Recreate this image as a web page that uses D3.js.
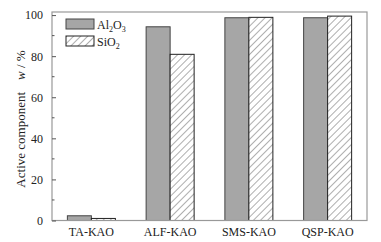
<!DOCTYPE html>
<html>
<head>
<meta charset="utf-8">
<script src="https://cdn.jsdelivr.net/npm/d3@7"></script>
<style>
  body { margin: 0; background: #fff; }
  text { font-family: "Liberation Serif", "Times New Roman", serif; }
</style>
</head>
<body>
<svg id="chart" width="381" height="242"></svg>
<script>
// chart data
const samples = ["TA-KAO", "ALF-KAO", "SMS-KAO", "QSP-KAO"];
const al2o3 = [2.3, 94.3, 98.7, 98.7];
const sio2 = [1.0, 80.9, 98.9, 99.5];
const yTicks = [0, 20, 40, 60, 80, 100];
const yMinor = [10, 30, 50, 70, 90];

const svg = d3.select("#chart");
const margin = { left: 52, right: 14, top: 12, bottom: 21.5 };
const width = 381 - margin.left - margin.right;
const height = 242 - margin.top - margin.bottom;

// hatch pattern for SiO2 bars
const defs = svg.append("defs");
defs.append("pattern")
  .attr("id", "hatch")
  .attr("patternUnits", "userSpaceOnUse")
  .attr("width", 5)
  .attr("height", 5)
  .attr("patternTransform", "rotate(45)")
  .call(p => {
    p.append("rect").attr("width", 5).attr("height", 5).attr("fill", "#fff");
    p.append("line").attr("x1", 0).attr("y1", 0).attr("x2", 0).attr("y2", 5)
      .attr("stroke", "#333").attr("stroke-width", 0.8);
  });

const g = svg.append("g").attr("transform", `translate(${margin.left},${margin.top})`);

const x = d3.scaleBand().domain(samples).range([0, width]).padding(0);
const y = d3.scaleLinear().domain([0, 101.5]).range([height, 0]);
const barW = 24;

// bars
const groups = g.selectAll(".grp")
  .data(samples)
  .join("g")
  .attr("transform", d => `translate(${x(d) + x.bandwidth() / 2},0)`);

groups.append("rect")
  .attr("x", -barW)
  .attr("y", (d, i) => y(al2o3[i]))
  .attr("width", barW)
  .attr("height", (d, i) => height - y(al2o3[i]))
  .attr("fill", "#a6a6a6")
  .attr("stroke", "#444")
  .attr("stroke-width", 1);

groups.append("rect")
  .attr("x", 0)
  .attr("y", (d, i) => y(sio2[i]))
  .attr("width", barW)
  .attr("height", (d, i) => height - y(sio2[i]))
  .attr("fill", "url(#hatch)")
  .attr("stroke", "#222")
  .attr("stroke-width", 1);

// frame
g.append("rect")
  .attr("width", width)
  .attr("height", height)
  .attr("fill", "none")
  .attr("stroke", "#999")
  .attr("stroke-width", 1.2);

// y axis with inward ticks
const yAxis = g.append("g")
  .call(d3.axisLeft(y).tickValues(yTicks).tickSize(-4).tickPadding(9).tickFormat(d3.format("d")));
yAxis.select(".domain").remove();
yAxis.selectAll("line").attr("stroke", "#555");
yAxis.selectAll("text").attr("font-size", 12).attr("fill", "#222")
  .attr("font-family", "Liberation Serif, serif");

g.append("g")
  .selectAll("line")
  .data(yMinor)
  .join("line")
  .attr("x1", 0).attr("x2", 2.5)
  .attr("y1", d => y(d)).attr("y2", d => y(d))
  .attr("stroke", "#555");

// x axis labels
const xAxis = g.append("g")
  .attr("transform", `translate(0,${height})`)
  .call(d3.axisBottom(x).tickSize(0).tickPadding(7));
xAxis.select(".domain").remove();
xAxis.selectAll("text").attr("font-size", 12).attr("fill", "#222")
  .attr("font-family", "Liberation Serif, serif");

// y label
const yl = svg.append("text")
  .attr("transform", "translate(25,119) rotate(-90)")
  .attr("text-anchor", "middle")
  .attr("font-size", 13)
  .attr("fill", "#222");
yl.append("tspan").text("Active component");
yl.append("tspan").attr("dx", 12).attr("font-style", "italic").text("w");
yl.append("tspan").text(" / %");

// legend
const legend = svg.append("g").attr("transform", "translate(66,19)");
const legItems = [
  { fill: "#a6a6a6", stroke: "#444", name: "Al", sub1: "2", mid: "O", sub2: "3" },
  { fill: "url(#hatch)", stroke: "#222", name: "SiO", sub1: "2", mid: "", sub2: "" }
];
const li = legend.selectAll("g")
  .data(legItems)
  .join("g")
  .attr("transform", (d, i) => `translate(0,${i * 17})`);
li.append("rect")
  .attr("width", 28).attr("height", 10)
  .attr("fill", d => d.fill).attr("stroke", d => d.stroke);
const lt = li.append("text")
  .attr("x", 31).attr("y", 10)
  .attr("font-size", 12).attr("fill", "#222");
lt.append("tspan").text(d => d.name);
lt.append("tspan").attr("dy", 3).attr("font-size", 8).text(d => d.sub1);
lt.filter(d => d.mid).append("tspan").attr("dy", -3).text(d => d.mid);
lt.filter(d => d.sub2).append("tspan").attr("dy", 3).attr("font-size", 8).text(d => d.sub2);
</script>
</body>
</html>
